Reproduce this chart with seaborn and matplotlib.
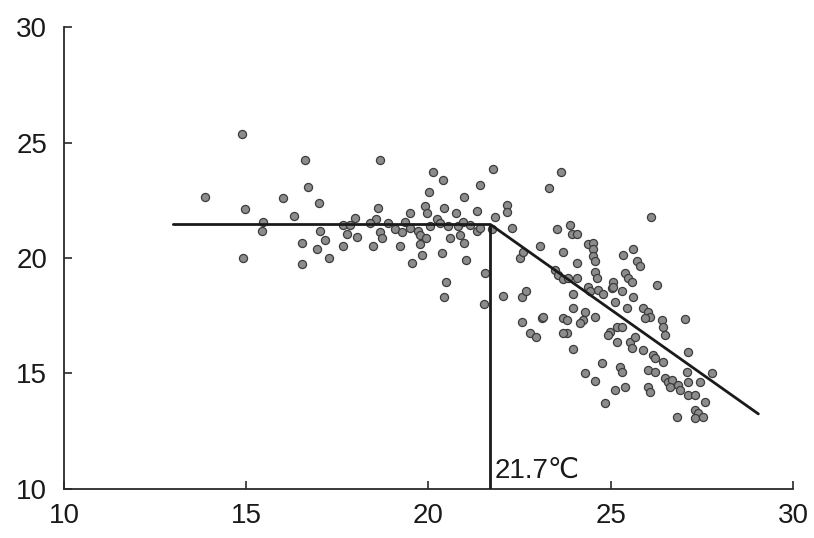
import matplotlib
matplotlib.use("Agg")
import matplotlib.pyplot as plt
import numpy as np
import pandas as pd
import seaborn as sns

# Observed temperatures: air temperature (x) vs. response temperature (y)
x_obs = [
    13.87, 14.88, 14.97, 14.91, 16.01, 16.61, 16.69, 17.00, 16.31, 15.46,
    15.43, 16.53, 16.53, 17.16, 16.94, 17.27, 17.65, 18.67, 20.12, 20.40,
    20.01, 20.97, 18.61, 19.49, 19.90, 19.96, 20.43, 20.75, 17.98, 18.56,
    17.65, 20.23, 19.08, 19.49, 19.71, 20.04, 20.53, 20.81, 17.76, 18.04,
    18.67, 18.72, 19.27, 19.77, 19.93, 20.59, 20.86, 18.48, 19.22, 19.77,
    20.97, 19.82, 20.37, 19.55, 21.03, 20.48, 20.43, 21.77, 21.41, 21.33,
    21.82, 20.95, 21.33, 21.74, 21.55, 21.52, 17.85, 18.89, 19.36, 20.32,
    21.14, 21.41, 17.02, 18.40,
    22.15, 22.15, 22.29, 23.31, 23.64, 23.06, 22.51, 22.60, 23.53, 23.88,
    23.94, 24.07, 23.69, 24.37, 24.51, 24.51, 24.51, 24.57, 24.07, 23.47,
    23.55, 23.69, 23.83, 24.07, 24.57, 24.62, 24.65, 25.34, 25.61, 25.72,
    25.80, 25.39, 25.47, 25.58, 25.06, 25.03, 26.27, 25.31, 25.61, 23.96,
    24.37, 24.43, 24.79, 25.12, 25.45, 23.96, 24.29, 24.24, 23.69, 23.11,
    22.57, 22.78, 22.95, 22.04, 22.57, 22.68, 24.57, 23.80, 24.98, 25.17,
    25.31, 24.92, 25.17, 25.53, 25.58, 25.67, 25.89, 26.02, 26.08, 25.94,
    26.41, 26.43, 26.49, 27.04, 25.89, 26.16, 26.21, 26.43, 26.02, 26.21,
    27.12, 27.09, 27.12, 27.45, 27.78, 26.49, 26.57, 26.68, 26.63, 26.85,
    26.90, 26.02, 26.08, 27.12, 27.31, 27.59, 27.31, 27.39, 27.31, 27.53,
    26.82, 23.96, 24.76, 24.29, 24.57, 25.25, 25.31, 25.12, 25.39, 24.84,
    26.10, 24.16, 23.80, 23.14, 23.69, 25.06,
]
y_obs = [
    22.62, 25.36, 22.10, 20.02, 22.58, 24.23, 23.06, 22.36, 21.80, 21.58,
    21.15, 20.67, 19.72, 20.76, 20.37, 19.98, 20.50, 24.23, 23.71, 23.36,
    22.84, 22.62, 22.15, 21.93, 22.23, 21.93, 22.15, 21.93, 21.71, 21.67,
    21.45, 21.67, 21.24, 21.32, 21.15, 21.37, 21.37, 21.37, 21.02, 20.89,
    21.11, 20.85, 21.11, 20.98, 20.85, 20.85, 20.98, 20.50, 20.50, 20.59,
    20.67, 20.11, 20.20, 19.80, 19.93, 18.94, 18.33, 23.84, 23.15, 22.02,
    21.76, 21.58, 21.15, 21.24, 19.37, 18.03, 21.41, 21.50, 21.58, 21.50,
    21.45, 21.32, 21.15, 21.50,
    22.28, 21.97, 21.32, 23.02, 23.71, 20.50, 20.02, 20.28, 21.24, 21.45,
    21.02, 21.02, 20.28, 20.59, 20.67, 20.37, 20.07, 19.85, 19.80, 19.50,
    19.28, 19.07, 19.15, 19.15, 19.41, 19.15, 18.63, 20.15, 20.37, 19.85,
    19.67, 19.37, 19.15, 18.98, 18.94, 18.72, 18.85, 18.55, 18.29, 18.42,
    18.76, 18.55, 18.42, 18.11, 17.85, 17.85, 17.68, 17.33, 17.42, 17.42,
    17.25, 16.77, 16.59, 18.37, 18.33, 18.59, 17.46, 16.77, 16.81, 17.03,
    17.03, 16.68, 16.38, 16.38, 16.12, 16.59, 17.85, 17.68, 17.46, 17.42,
    17.33, 17.03, 16.68, 17.37, 16.03, 15.81, 15.68, 15.51, 15.16, 15.08,
    15.94, 15.08, 14.64, 14.64, 15.03, 14.82, 14.64, 14.73, 14.43, 14.51,
    14.30, 14.43, 14.21, 14.08, 14.08, 13.77, 13.43, 13.30, 13.08, 13.12,
    13.12, 16.07, 15.47, 15.03, 14.69, 15.29, 15.08, 14.30, 14.43, 13.73,
    21.76, 17.20, 17.33, 17.46, 16.77, 18.76,
]

# Broken-line fit: plateau, then linear decline beyond the threshold
fit_x = [13.0, 21.7, 29.05]
fit_y = [21.45, 21.45, 13.25]
threshold = 21.7
threshold_label = "21.7℃"

ticks = [10, 15, 20, 25, 30]

sns.set_style("ticks")
plt.rcParams["font.family"] = ["Liberation Sans", "DejaVu Sans"]

fig = plt.figure(figsize=(8.14, 5.38), dpi=100)
ax = fig.add_axes([0.0786, 0.0911, 0.8956, 0.8587])

obs = pd.DataFrame({"x": x_obs, "y": y_obs})
sns.scatterplot(data=obs, x="x", y="y", ax=ax, s=34,
                color="#8c8c8c", edgecolor="#3c3c3c", linewidth=0.9,
                zorder=3)

fit = pd.DataFrame({"x": fit_x, "y": fit_y})
sns.lineplot(data=fit, x="x", y="y", ax=ax, sort=False, estimator=None,
             color="#1a1a1a", linewidth=2.0, zorder=4)
ax.vlines(threshold, 10, fit_y[1], color="#1a1a1a", linewidth=2.0, zorder=4)

ax.text(threshold + 0.12, 10.5, threshold_label, fontsize=20,
        ha="left", va="baseline", color="#1a1a1a",
        family=["Liberation Sans", "DejaVu Sans"])

ax.set_xlim(10, 30)
ax.set_ylim(10, 30)
ax.set_xticks(ticks)
ax.set_yticks(ticks)
ax.set_xlabel("")
ax.set_ylabel("")
sns.despine(ax=ax)
for side in ("left", "bottom"):
    ax.spines[side].set_linewidth(1.3)
    ax.spines[side].set_color("#2a2a2a")
ax.tick_params(direction="in", length=6, width=1.2, colors="#2a2a2a",
               labelsize=20, labelcolor="#1a1a1a")
ax.tick_params(axis="y", pad=12)
ax.tick_params(axis="x", pad=10)

fig.savefig("out.png", dpi=100)
